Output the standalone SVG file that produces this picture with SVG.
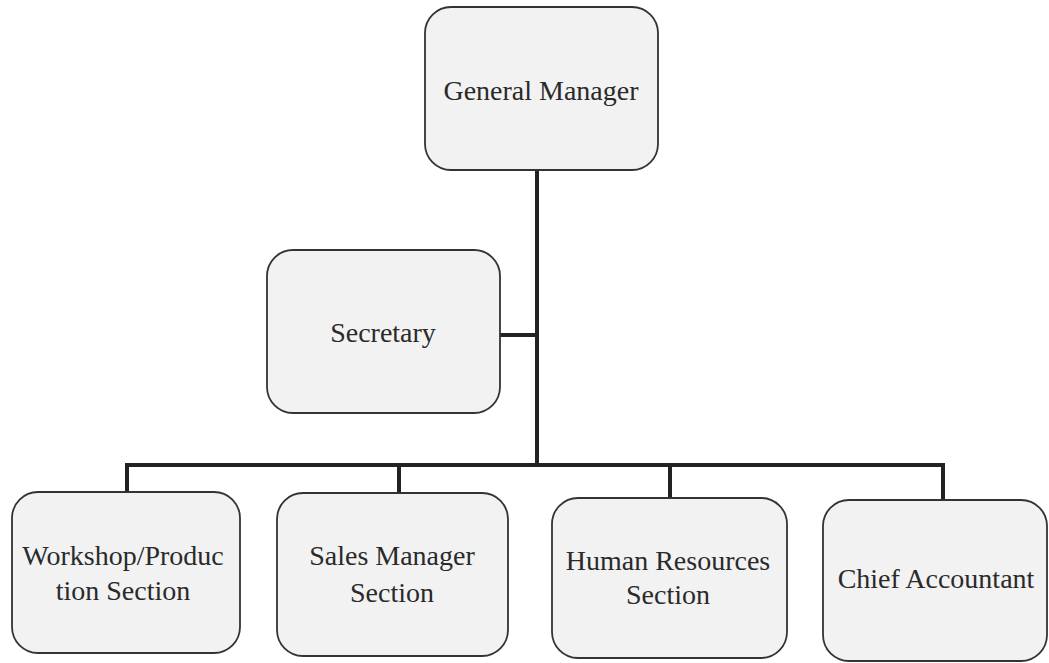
<svg xmlns="http://www.w3.org/2000/svg" width="1049" height="663" viewBox="0 0 1049 663">
<style>
.box{fill:#f2f2f2;stroke:#333;stroke-width:1.8}
.t{font-family:"Liberation Serif","Times New Roman",serif;font-size:28px;fill:#2a2a2a;text-anchor:middle}
.c{fill:none;stroke:#222;stroke-width:4;stroke-linejoin:miter}
</style>
<rect width="1049" height="663" fill="#fff"/>
<g id="connectors">
<path class="c" d="M537 170 V465"/>
<path class="c" d="M500 335 H537"/>
<path class="c" d="M127 492 V465 H943 V500"/>
<path class="c" d="M399 465 V493"/>
<path class="c" d="M670 465 V498"/>
</g>
<g id="general-manager">
<rect class="box" x="425" y="7" width="233" height="163" rx="26"/>
<text class="t" x="541" y="100">General Manager</text>
</g>
<g id="secretary">
<rect class="box" x="267" y="250" width="233" height="163" rx="26"/>
<text class="t" x="383" y="342">Secretary</text>
</g>
<g id="workshop">
<rect class="box" x="12" y="492" width="228" height="161" rx="26"/>
<text class="t" x="123" y="565">Workshop/Produc</text>
<text class="t" x="123" y="600">tion Section</text>
</g>
<g id="sales">
<rect class="box" x="277" y="493" width="231" height="163" rx="26"/>
<text class="t" x="392" y="565">Sales Manager</text>
<text class="t" x="392" y="602">Section</text>
</g>
<g id="hr">
<rect class="box" x="552" y="498" width="235" height="160" rx="26"/>
<text class="t" x="668" y="570">Human Resources</text>
<text class="t" x="668" y="604">Section</text>
</g>
<g id="chief">
<rect class="box" x="823" y="500" width="224" height="161" rx="26"/>
<text class="t" x="936" y="588">Chief Accountant</text>
</g>
</svg>
